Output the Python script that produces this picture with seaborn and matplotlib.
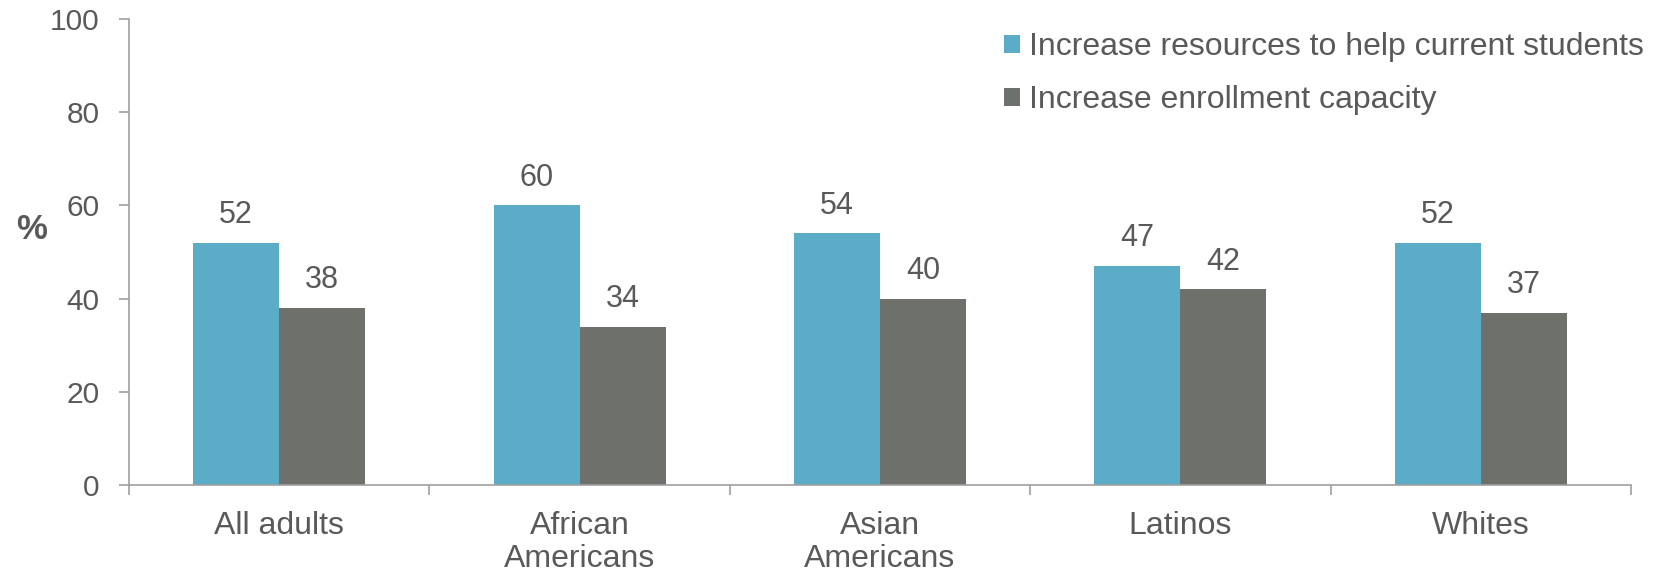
import matplotlib
matplotlib.use("Agg")
import matplotlib.pyplot as plt
import seaborn as sns
import pandas as pd
import numpy as np

groups = ["All adults", "African\nAmericans", "Asian\nAmericans", "Latinos", "Whites"]
series_names = ["Increase resources to help current students", "Increase enrollment capacity"]
resources = [52, 60, 54, 47, 52]
enrollment = [38, 34, 40, 42, 37]
y_ticks = [0, 20, 40, 60, 80, 100]

BLUE = "#5BACC6"
GRAY = "#6E706C"
TEXT = "#595959"
AXIS = "#A0A0A0"

df = pd.DataFrame({
    "group": groups * 2,
    "series": [series_names[0]] * len(groups) + [series_names[1]] * len(groups),
    "value": resources + enrollment,
})

sns.set_theme(style="white")
plt.rcParams["font.family"] = ["Liberation Sans", "DejaVu Sans"]

fig = plt.figure(figsize=(16.6, 5.73), dpi=100)
ax = fig.add_axes([129 / 1660, 1 - 485 / 573, (1631 - 129) / 1660, (485 - 19) / 573])

sns.barplot(data=df, x="group", y="value", hue="series", order=groups,
            hue_order=series_names, palette=[BLUE, GRAY], width=0.573,
            saturation=1, ax=ax, legend=True, linewidth=0)

for cont in ax.containers:
    ax.bar_label(cont, fmt="%g", padding=9, fontsize=22, color=TEXT)

ax.set_xlim(-0.5, len(groups) - 0.5)
ax.set_ylim(0, 100)
ax.set_yticks(y_ticks)
ax.tick_params(axis="y", labelsize=21.5, colors=TEXT, length=7, width=1.2,
               color=AXIS, pad=14, left=True)
ax.tick_params(axis="x", which="major", labelsize=23, labelcolor=TEXT,
               length=0, pad=19, bottom=True)
ax.set_xticks(np.arange(-0.5, len(groups)), minor=True)
ax.tick_params(axis="x", which="minor", length=7, width=1.2, color=AXIS, bottom=True)
for lbl in ax.get_xticklabels():
    lbl.set_linespacing(1.12)

for side in ["top", "right"]:
    ax.spines[side].set_visible(False)
for side in ["left", "bottom"]:
    ax.spines[side].set_color(AXIS)
    ax.spines[side].set_linewidth(1.2)

ax.set_xlabel("")
ax.set_ylabel("%", rotation=0, fontsize=25, fontweight="bold", color=TEXT)
ax.yaxis.set_label_coords((32 - 129) / 1502, (485 - 246) / 466)

handles, labels = ax.get_legend_handles_labels()
ax.legend(handles, labels, loc="upper left",
          bbox_to_anchor=(1004 / 1660, 1 - 32 / 573), bbox_transform=fig.transFigure,
          frameon=False, fontsize=23, labelcolor=TEXT, borderpad=0, borderaxespad=0,
          handlelength=0.5, handleheight=0.5, handletextpad=0.28, labelspacing=0.72)

fig.savefig("out.png", dpi=100, facecolor="white")
